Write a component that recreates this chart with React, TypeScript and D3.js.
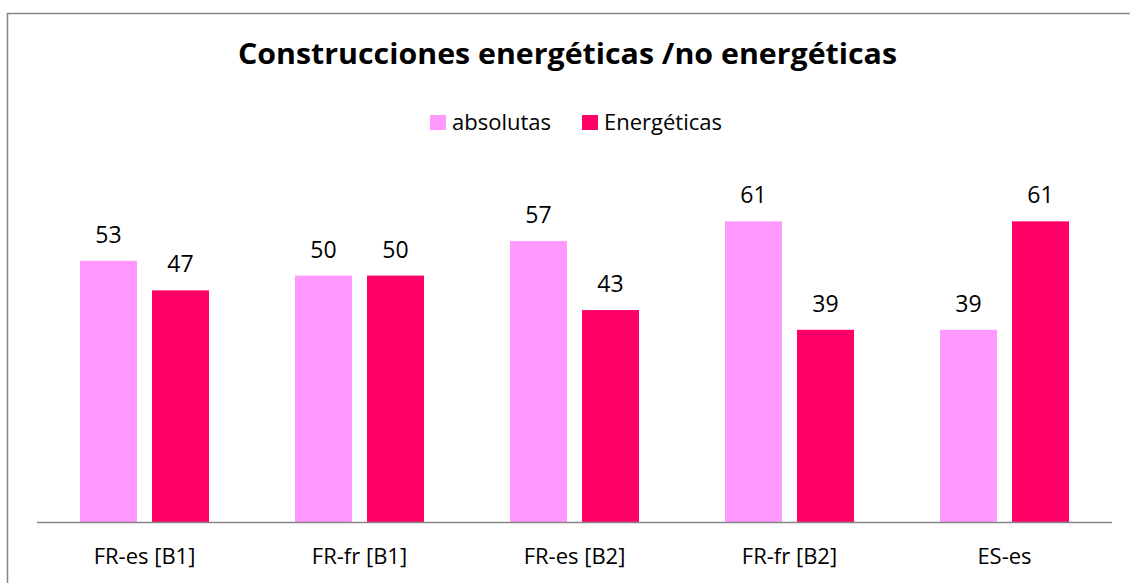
import React from "react";
import * as d3 from "d3";

const categories = ["FR-es [B1]", "FR-fr [B1]", "FR-es [B2]", "FR-fr [B2]", "ES-es"];
const seriesNames = ["absolutas", "Energéticas"];
const absolutas = [53, 50, 57, 61, 39];
const energeticas = [47, 50, 43, 39, 61];
const colors = ["#FF99FF", "#FF0066"];
const title = "Construcciones energéticas /no energéticas";

const W = 1130;
const H = 583;
const FONT = "'Open Sans', Lato, sans-serif";

export default function App() {
  const x0 = d3.scaleBand().domain(categories).range([37, 1112]).paddingInner(0).paddingOuter(0);
  const band = x0.bandwidth();
  const barW = band * 0.265;
  const gap = band * 0.07;
  const y = d3.scaleLinear().domain([0, 70]).range([522, 177]);
  const series = [absolutas, energeticas];

  return (
    <div style={{ position: "absolute", left: 0, top: 0 }}>
      <svg width={W} height={H} style={{ display: "block", background: "#fff" }}>
        <rect x={7.5} y={13.5} width={W + 20} height={H + 20} fill="#fff" stroke="#868686" strokeWidth={1.5} />
        <text
          x={567.5}
          y={64}
          textAnchor="middle"
          fontFamily={FONT}
          fontWeight="bold"
          fontSize={29}
          textLength={659}
          lengthAdjust="spacingAndGlyphs"
          fill="#000"
        >
          {title}
        </text>
        {seriesNames.map((s, i) => {
          const lx = i === 0 ? 430 : 582;
          return (
            <g key={s}>
              <rect x={lx} y={115} width={16} height={15} fill={colors[i]} />
              <text x={lx + 22} y={130} fontFamily={FONT} fontSize={22} fill="#000">
                {s}
              </text>
            </g>
          );
        })}
        {categories.map((c, ci) => {
          const bx = x0(c)!;
          const start = bx + (band - (2 * barW + gap)) / 2;
          return (
            <g key={c}>
              {series.map((vals, si) => {
                const v = vals[ci];
                const xx = start + si * (barW + gap);
                return (
                  <g key={si}>
                    <rect x={xx} y={y(v)} width={barW} height={y(0) - y(v)} fill={colors[si]} />
                    <text
                      x={xx + barW / 2}
                      y={y(v) - 18}
                      textAnchor="middle"
                      fontFamily={FONT}
                      fontSize={23}
                      fill="#000"
                    >
                      {v}
                    </text>
                  </g>
                );
              })}
              <text x={bx + band / 2} y={564} textAnchor="middle" fontFamily={FONT} fontSize={22} fill="#000">
                {c}
              </text>
            </g>
          );
        })}
        <line x1={37} x2={1112} y1={522.5} y2={522.5} stroke="#868686" strokeWidth={1.5} />
      </svg>
    </div>
  );
}
